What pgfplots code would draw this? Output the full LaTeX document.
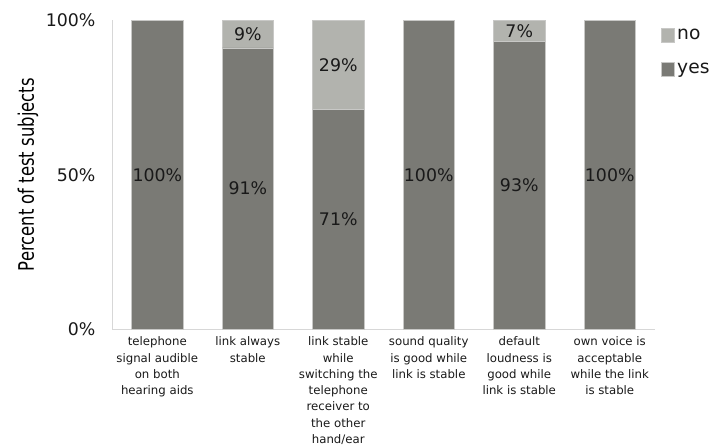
\documentclass[border=0pt]{standalone}
\usepackage{pgfplots}
\pgfplotsset{compat=1.18}
\usepackage{pgfplotstable}
\usepackage{fontspec}
\setmainfont{DejaVu Sans}

\definecolor{yesgray}{RGB}{122,122,117}
\definecolor{nogray}{RGB}{178,179,174}
\definecolor{axisgray}{RGB}{215,215,215}
\definecolor{edgegray}{RGB}{200,200,198}
\definecolor{txt}{RGB}{25,25,25}

% share of test subjects answering yes / no, per question
\pgfplotstableread{
idx yes no
0   100 0
1   91  9
2   71  29
3   100 0
4   93  7
5   100 0
}\answers

\begin{document}
\begin{tikzpicture}
\useasboundingbox (-84pt,-88.5pt) rectangle (451.25pt,247pt);
\begin{axis}[
    at={(0,0)}, anchor=south west,
    scale only axis,
    width=407pt, height=232pt,
    ybar, bar shift=0pt,
    bar width=38.5pt,
    ymin=0, ymax=100,
    xmin=-0.5, xmax=5.5,
    axis x line*=bottom,
    axis y line*=left,
    axis line style={-, axisgray, line width=0.8pt},
    major tick length=0pt,
    ytick={0,50,100},
    yticklabels={0\%,50\%,100\%},
    yticklabel style={font=\fontsize{13}{15}\selectfont, text=txt, xshift=-9pt},
    xtick={0,...,5},
    xticklabels={
        telephone\\signal audible\\on both\\hearing aids,
        link always\\stable,
        link stable\\while\\switching the\\telephone\\receiver to\\the other\\hand/ear,
        sound quality\\is good while\\link is stable,
        default\\loudness is\\good while\\link is stable,
        own voice is\\acceptable\\while the link\\is stable},
    xticklabel style={align=center, font=\fontsize{8.8}{12.2}\selectfont, text=txt, yshift=-2pt},
    every axis y label/.style={at={(axis description cs:-0.155,0.5)}, rotate=90, anchor=center},
    ylabel={\scalebox{0.77}[1]{\fontsize{16}{18}\selectfont Percent of test subjects}},
    legend style={draw=none, fill=none, at={(1.010,0.98)}, anchor=north west,
        font=\fontsize{14}{16}\selectfont, row sep=12pt, inner sep=0pt,
        nodes={inner sep=2pt, text=txt}},
    legend cell align=left,
    legend image code/.code={\draw[#1] (0pt,-5pt) rectangle (10pt,5pt);},
    /pgf/number format/assume math mode=true,
    every node near coord/.append style={font=\fontsize{13}{15}\selectfont, text=txt, anchor=center},
]
% light bar: yes + no, i.e. the full column
\addplot[fill=nogray, draw=edgegray, line width=0.4pt]
    table[x=idx, y expr=\thisrow{yes}+\thisrow{no}] {\answers};
\addlegendentry{no}
% dark bar: yes, drawn over it from the bottom
\addplot[fill=yesgray, draw=edgegray, line width=0.4pt]
    table[x=idx, y=yes] {\answers};
\addlegendentry{yes}
% labels, at the middle of each segment
\addplot[draw=none, fill=none, forget plot,
    nodes near coords={\pgfmathprintnumber{\pgfplotspointmeta}\%},
    point meta=\thisrow{yes}]
    table[x=idx, y expr=\thisrow{yes}/2] {\answers};
\addplot[draw=none, fill=none, forget plot,
    nodes near coords={\pgfmathprintnumber{\pgfplotspointmeta}\%},
    point meta=\thisrow{no},
    restrict expr to domain={\thisrow{no}}{1:100}]
    table[x=idx, y expr=\thisrow{yes}+\thisrow{no}/2] {\answers};
\end{axis}
\end{tikzpicture}
\end{document}
